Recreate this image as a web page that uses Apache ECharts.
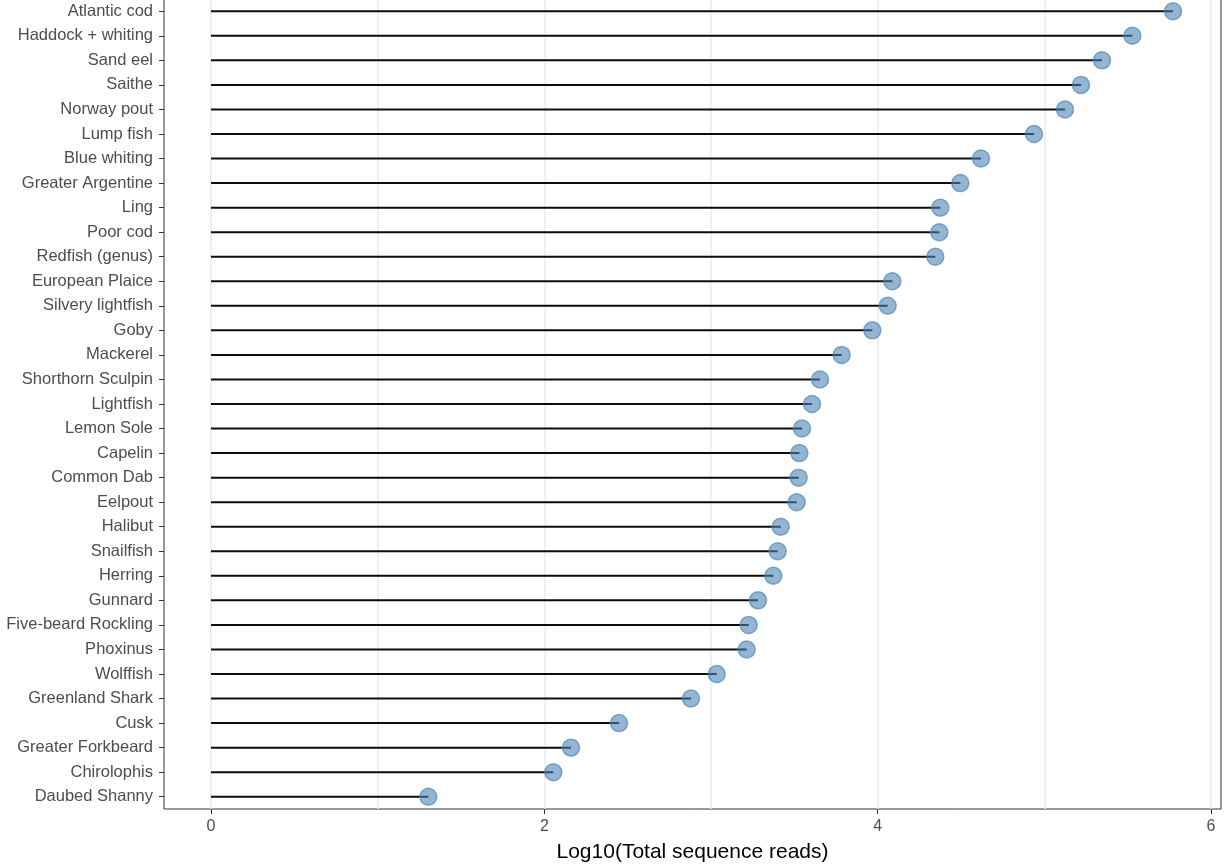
<!DOCTYPE html>
<html>
<head>
<meta charset="utf-8">
<script src="https://cdn.jsdelivr.net/npm/echarts@6/dist/echarts.min.js"></script>
<style>
  html, body { margin: 0; padding: 0; background: #fff; }
  #chart { width: 1230px; height: 864px; }
</style>
</head>
<body>
<div id="chart"></div>
<script>
// species, top to bottom
const species = [
  'Atlantic cod', 'Haddock + whiting', 'Sand eel', 'Saithe', 'Norway pout',
  'Lump fish', 'Blue whiting', 'Greater Argentine', 'Ling', 'Poor cod',
  'Redfish (genus)', 'European Plaice', 'Silvery lightfish', 'Goby', 'Mackerel',
  'Shorthorn Sculpin', 'Lightfish', 'Lemon Sole', 'Capelin', 'Common Dab',
  'Eelpout', 'Halibut', 'Snailfish', 'Herring', 'Gunnard',
  'Five-beard Rockling', 'Phoxinus', 'Wolffish', 'Greenland Shark', 'Cusk',
  'Greater Forkbeard', 'Chirolophis', 'Daubed Shanny'
];

// log10 of total sequence reads
const logReads = [
  5.772, 5.528, 5.346, 5.220, 5.124,
  4.938, 4.620, 4.496, 4.376, 4.370,
  4.346, 4.088, 4.060, 3.968, 3.784,
  3.654, 3.606, 3.546, 3.530, 3.526,
  3.514, 3.418, 3.400, 3.374, 3.282,
  3.226, 3.214, 3.034, 2.880, 2.448,
  2.160, 2.054, 1.304
];

const xTicks = [0, 2, 4, 6];
const xGridLines = [0, 1, 2, 3, 4, 5, 6];

const FONT = '"Liberation Sans", Arial, sans-serif';

const chart = echarts.init(document.getElementById('chart'));
chart.setOption({
  animation: false,
  grid: {
    left: 164,
    right: 9,
    top: -1,
    bottom: 55,
    outerBoundsMode: 'none',
    containLabel: false,
    show: true,
    borderColor: '#333333',
    borderWidth: 1,
    backgroundColor: 'transparent'
  },
  xAxis: {
    type: 'value',
    min: -0.282,
    max: 6.06,
    axisLine: { show: false, onZero: false },
    splitLine: { show: false },
    axisTick: {
      show: true,
      length: 5,
      customValues: xTicks,
      lineStyle: { color: '#333333', width: 1 }
    },
    axisLabel: {
      customValues: xTicks,
      margin: 10,
      color: '#4d4d4d',
      fontSize: 16,
      fontFamily: FONT
    },
    name: 'Log10(Total sequence reads)',
    nameLocation: 'middle',
    nameGap: 33,
    nameTextStyle: { color: '#000000', fontSize: 21, fontFamily: FONT }
  },
  yAxis: {
    type: 'category',
    data: species,
    inverse: true,
    axisLine: { show: false, onZero: false },
    splitLine: { show: false },
    axisTick: {
      show: true,
      alignWithLabel: true,
      length: 5,
      lineStyle: { color: '#333333', width: 1 }
    },
    axisLabel: {
      margin: 11,
      color: '#4d4d4d',
      fontSize: 16.5,
      fontFamily: FONT
    }
  },
  series: [
    {
      // vertical grid lines (major + minor)
      type: 'line',
      data: [],
      z: 1,
      silent: true,
      markLine: {
        silent: true,
        z: 1,
        symbol: 'none',
        label: { show: false },
        lineStyle: { color: '#ebebeb', width: 1.5, type: 'solid' },
        emphasis: { disabled: true },
        data: xGridLines.map(v => ({ xAxis: v }))
      }
    },
    {
      name: 'stem',
      type: 'bar',
      data: logReads,
      barWidth: 2,
      z: 3,
      itemStyle: { color: '#0d0d0d' }
    },
    {
      name: 'reads',
      type: 'scatter',
      data: logReads,
      symbol: 'circle',
      symbolSize: 17,
      z: 4,
      itemStyle: {
        color: 'rgba(70,130,180,0.58)',
        borderColor: 'rgba(70,130,180,0.65)',
        borderWidth: 1.5,
        opacity: 1
      }
    }
  ]
});
</script>
</body>
</html>
